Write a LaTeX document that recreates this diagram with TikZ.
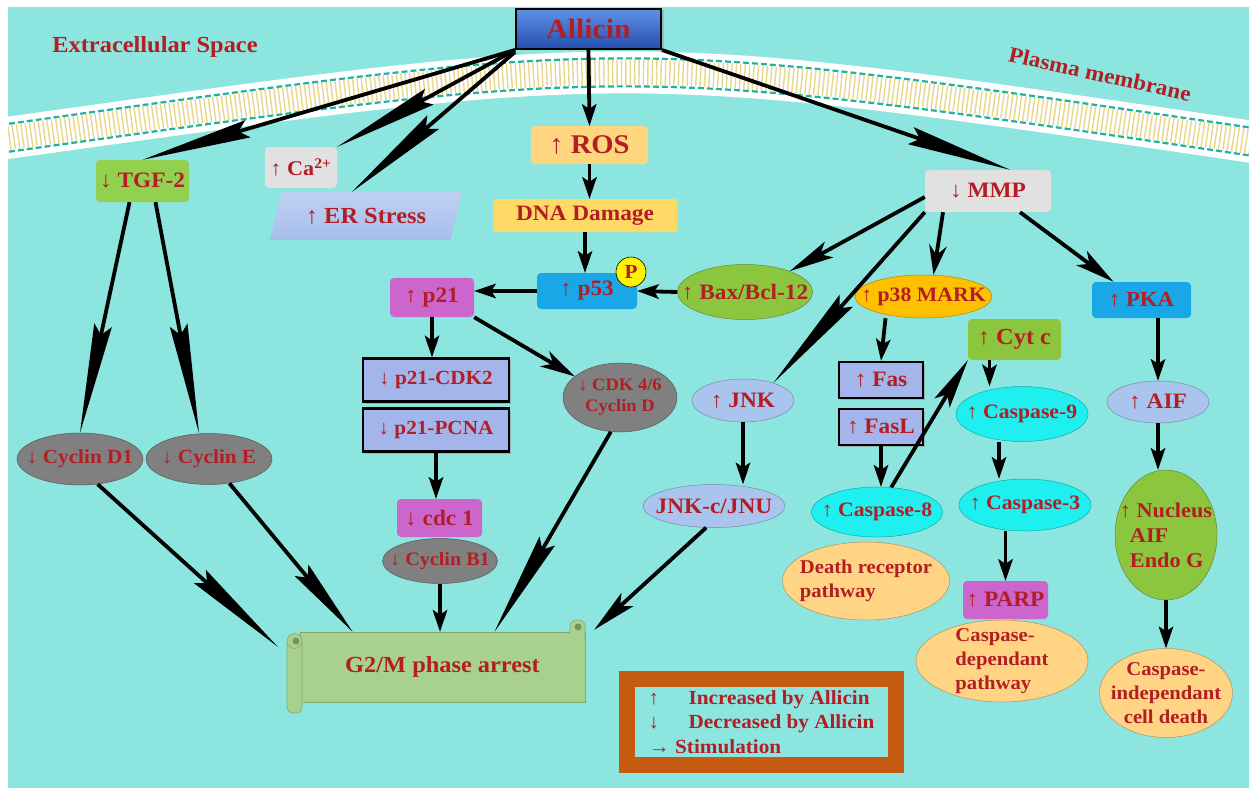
\documentclass[tikz,border=0pt]{standalone}
\usepackage{fontspec}
\setmainfont{Liberation Serif}[FakeStretch=1.06]
\usetikzlibrary{arrows.meta,shapes.geometric,shadows}

\definecolor{bgcyan}{RGB}{141,229,223}
\definecolor{txtred}{RGB}{178,30,36}
\definecolor{memteal}{RGB}{32,178,160}
\definecolor{lipid}{RGB}{232,214,140}
\definecolor{tgfgreen}{RGB}{146,208,80}
\definecolor{boxgray}{RGB}{225,225,225}
\definecolor{erblue}{RGB}{164,190,235}
\definecolor{rosorange}{RGB}{255,214,128}
\definecolor{dnayellow}{RGB}{255,217,102}
\definecolor{p53blue}{RGB}{26,167,232}
\definecolor{magbox}{RGB}{204,102,204}
\definecolor{lavender}{RGB}{163,181,234}
\definecolor{ovalgray}{RGB}{128,128,128}
\definecolor{leafgreen}{RGB}{140,198,63}
\definecolor{p38orange}{RGB}{255,192,0}
\definecolor{caspcyan}{RGB}{30,240,240}
\definecolor{paleblue}{RGB}{169,197,238}
\definecolor{peach}{RGB}{255,212,133}
\definecolor{scrollgreen}{RGB}{169,209,142}
\definecolor{legframe}{RGB}{197,90,17}
\definecolor{allictop}{RGB}{95,145,232}
\definecolor{allicbot}{RGB}{38,78,172}

\begin{document}
\begin{tikzpicture}[x=1pt,y=-1pt,
    every node/.style={text=txtred, inner sep=0pt, font=\bfseries\fontsize{22}{26}\selectfont},
    rbox/.style={rectangle, rounded corners=4pt, fill=#1},
    sbox/.style={rectangle, fill=lavender, draw=black, line width=2.5pt,
      drop shadow={shadow xshift=2pt, shadow yshift=-2pt, fill=black!45}},
    oval/.style={ellipse, fill=#1, draw=#1!70!black, line width=0.5pt, inner xsep=-40pt, inner ysep=-15pt},
    arr/.style={line width=3.8pt, -{Stealth[length=22pt, width=15pt, inset=5pt, line width=0pt]}},
    longarr/.style={line width=3.8pt, -{Stealth[length=#1, width=18pt, inset=10pt, line width=0pt]}},
    longarr/.default=100pt,
    lipidline/.style={line width=2.2pt, memteal, dash pattern=on 6pt off 3pt}]

\useasboundingbox (0,0) rectangle (1249,790);
\fill[white] (0,0) rectangle (1249,790);
\fill[bgcyan] (8,7) rectangle (1249,788);

% plasma membrane
\begin{scope}
  \clip (8,7) rectangle (1249,788);
  \draw[white, line width=42pt] (0,139) .. controls (636,50) and (621,49) .. (1260,143);
  \draw[lipid, line width=25pt, dash pattern=on 1.4pt off 3pt] (0,139) .. controls (636,50) and (621,49) .. (1260,143);
  \foreach \dy in {-14,14}
    \draw[lipidline, yshift=\dy pt] (0,139) .. controls (636,50) and (621,49) .. (1260,143);
\end{scope}

\node[font=\bfseries\fontsize{23}{27}\selectfont] (extra) at (155,47) {Extracellular Space};
\node[rotate=-12.5] (plasma) at (1100,74) {Plasma membrane};

% top
\node[rectangle, minimum width=145pt, minimum height=40pt, draw=black, line width=2pt,
  top color=allictop, bottom color=allicbot,
  drop shadow={shadow xshift=3pt, shadow yshift=-1pt, fill=black!40},
  font=\bfseries\fontsize{28}{32}\selectfont] (allicin) at (588.5,29) {Allicin};
\node[rbox=tgfgreen, minimum width=93pt, minimum height=42pt] (tgf) at (142.5,181) {↓ TGF-2};
\node[rbox=boxgray, minimum width=72pt, minimum height=41pt, font=\bfseries\fontsize{21}{25}\selectfont] (ca) at (301,167.5) {↑ Ca\textsuperscript{2+}};
\node[trapezium, trapezium left angle=54, trapezium right angle=126, trapezium stretches body,
  minimum width=192pt, minimum height=48pt, top color=erblue!70!white, bottom color=erblue,
  font=\bfseries\fontsize{23}{27}\selectfont] (er) at (366,216) {↑ ER Stress};
\node[rbox=rosorange, minimum width=117pt, minimum height=38pt, font=\bfseries\fontsize{27}{31}\selectfont] (ros) at (589.5,145) {↑ ROS};
\node[rbox=dnayellow, rounded corners=2pt, minimum width=184pt, minimum height=33pt] (dna) at (585,215.5) {DNA Damage};
\node[rbox=p53blue, minimum width=100pt, minimum height=36pt] (p53) at (587,291) {↑ p53};
\node[circle, fill=yellow, draw=black, line width=0.6pt, minimum size=30pt, font=\bfseries\fontsize{20}{24}\selectfont] (pmark) at (631,272) {P};
\node[oval=leafgreen, minimum width=135pt, minimum height=55pt] (bax) at (745,292) {↑ Bax/Bcl-12};

% p21 branch
\node[rbox=magbox, minimum width=84pt, minimum height=39pt] (p21) at (432,297.5) {↑ p21};
\node[sbox, minimum width=146pt, minimum height=43pt, font=\bfseries\fontsize{20}{24}\selectfont] (p21cdk2) at (436,380) {↓ p21-CDK2};
\node[sbox, minimum width=146pt, minimum height=43pt, font=\bfseries\fontsize{20}{24}\selectfont] (p21pcna) at (436,430) {↓ p21-PCNA};
\node[rbox=magbox, minimum width=85pt, minimum height=38pt] (cdc1) at (439.5,518) {↓ cdc 1};
\node[oval=ovalgray, minimum width=115pt, minimum height=45pt, font=\bfseries\fontsize{19}{23}\selectfont] (cycb1) at (440,561) {↓ Cyclin B1};
\node[oval=ovalgray, minimum width=114pt, minimum height=69pt, align=center, font=\bfseries\fontsize{17.5}{21}\selectfont] (cdk46) at (620,397.5) {↓ CDK 4/6\\Cyclin D};

% TGF branch
\node[oval=ovalgray, minimum width=126pt, minimum height=52pt, font=\bfseries\fontsize{20}{24}\selectfont] (cycd1) at (80,459) {↓ Cyclin D1};
\node[oval=ovalgray, minimum width=126pt, minimum height=51pt, font=\bfseries\fontsize{20}{24}\selectfont] (cyce) at (209,459) {↓ Cyclin E};

% G2/M scroll
\node[rectangle, minimum width=285pt, minimum height=70pt, fill=scrollgreen, draw=scrollgreen!80!black, line width=0.6pt,
  font=\bfseries\fontsize{23}{27}\selectfont] (g2m) at (442.5,667) {G2/M phase arrest};
\filldraw[fill=scrollgreen, draw=scrollgreen!80!black, line width=0.6pt, rounded corners=6pt]
  (570,634) -- (570,620) -- (585,620) -- (585,640);
\fill[scrollgreen!70!black] (578,627) circle (3.5pt);
\filldraw[fill=scrollgreen, draw=scrollgreen!80!black, line width=0.6pt, rounded corners=6pt]
  (287,642) -- (287,713) -- (302,713) -- (302,642);
\filldraw[fill=scrollgreen, draw=scrollgreen!80!black, line width=0.6pt] (294.5,641) circle (7.5pt);
\fill[scrollgreen!70!black] (296,641) circle (3.5pt);

% MMP branch
\node[rbox=boxgray, minimum width=126pt, minimum height=42pt] (mmp) at (988,191) {↓ MMP};
\node[oval=paleblue, minimum width=102pt, minimum height=43pt] (jnk) at (743,400.5) {↑ JNK};
\node[oval=paleblue, minimum width=142pt, minimum height=43pt] (jnkc) at (714,506) {JNK-c/JNU};
\node[oval=p38orange, minimum width=137pt, minimum height=43pt, font=\bfseries\fontsize{20.5}{24}\selectfont] (p38) at (923.5,296.5) {↑ p38 MARK};
\node[sbox, minimum width=84pt, minimum height=36pt] (fas) at (881,380) {↑ Fas};
\node[sbox, minimum width=84pt, minimum height=36pt] (fasl) at (881,427) {↑ FasL};
\node[oval=peach, minimum width=167pt, minimum height=78pt, align=left, font=\bfseries\fontsize{19.5}{24}\selectfont] (dpath) at (866,581) {Death receptor\\pathway};
\node[oval=caspcyan, minimum width=131pt, minimum height=50pt, font=\bfseries\fontsize{20.5}{24}\selectfont] (casp8) at (877,512) {↑ Caspase-8};
\node[rbox=leafgreen, minimum width=93pt, minimum height=41pt, font=\bfseries\fontsize{23}{27}\selectfont] (cytc) at (1014.5,339.5) {↑ Cyt c};
\node[oval=caspcyan, minimum width=132pt, minimum height=55pt, font=\bfseries\fontsize{20.5}{24}\selectfont] (casp9) at (1022,414) {↑ Caspase-9};
\node[oval=caspcyan, minimum width=132pt, minimum height=52pt, font=\bfseries\fontsize{20.5}{24}\selectfont] (casp3) at (1025,505) {↑ Caspase-3};
\node[oval=peach, minimum width=172pt, minimum height=82pt, align=left, font=\bfseries\fontsize{19.5}{24}\selectfont] (cdpath) at (1002,661) {Caspase-\\dependant\\pathway};
\node[rbox=magbox, minimum width=85pt, minimum height=38pt] (parp) at (1005.5,600) {↑ PARP};
\node[rbox=p53blue, minimum width=99pt, minimum height=36pt, font=\bfseries\fontsize{21.5}{25}\selectfont] (pka) at (1141.5,300) {↑ PKA};
\node[oval=paleblue, minimum width=102pt, minimum height=42pt] (aif) at (1158,402) {↑ AIF};
\node[oval=leafgreen, minimum width=102pt, minimum height=130pt, align=left, font=\bfseries\fontsize{21}{25}\selectfont] (nucl) at (1166,535) {↑ Nucleus\\\hspace*{10pt}AIF\\\hspace*{10pt}Endo G};
\node[oval=peach, minimum width=133pt, minimum height=89pt, align=center, font=\bfseries\fontsize{19.5}{24}\selectfont] (cid) at (1166,693) {Caspase-\\independant\\cell death};

% legend
\node[rectangle, draw=legframe, line width=16pt, minimum width=269pt, minimum height=86pt, align=left,
  font=\bfseries\fontsize{20}{24.5}\selectfont] (legend) at (761.5,722)
  {\makebox[40pt][l]{↑}Increased by Allicin\\\makebox[40pt][l]{↓}Decreased by Allicin\\→ Stimulation};

% connectors
\draw[longarr=110pt] (allicin.south west) -- (tgf.north);
\draw[longarr=105pt] (allicin.south west) -- (ca.north east);
\draw[longarr=107pt] ([yshift=-2pt]allicin.south west) -- ([xshift=-14pt]er.north);
\draw[arr] (allicin.south) -- (ros.north);
\draw[longarr=105pt] (allicin.south east) -- ([xshift=22pt]mmp.north);
\draw[arr] (ros.south) -- (ros.south |- dna.north);
\draw[arr] (dna.south) -- (dna.south |- p53.north);
\draw[arr] (p53.west) -- (p53.west -| p21.east);
\draw[arr] (bax.west) -- (p53.east);
\draw[arr] (p21.south) -- (p21.south |- p21cdk2.north);
\draw[longarr=35pt] (p21.south east) -- (cdk46.155);
\draw[arr] (p21pcna.south) -- (p21pcna.south |- cdc1.north);
\draw[arr] (cycb1.south) -- (cycb1.south |- g2m.north);
\draw[longarr=105pt] (cdk46.255) -- ([xshift=52pt]g2m.north);
\draw[longarr=110pt] ([xshift=-13pt]tgf.south) -- (cycd1.north);
\draw[longarr=110pt] ([xshift=13pt]tgf.south) -- ([xshift=-10pt]cyce.north);
\draw[longarr=105pt] (cycd1.-55) -- ([xshift=-22pt,yshift=-15pt]g2m.north west);
\draw[longarr=80pt] (cyce.-50) -- ([xshift=-90pt]g2m.north);
\draw[longarr=45pt] (jnkc.250) -- ([xshift=9pt,yshift=2pt]g2m.north east);
\draw[longarr=45pt] ([yshift=-6pt]mmp.west) -- (bax.25);
\draw[longarr=110pt] (mmp.south west) -- (jnk.30);
\draw[arr] (jnk.south) -- (jnk.south |- jnkc.north);
\draw[longarr=30pt] ([xshift=-45pt]mmp.south) -- ([xshift=10pt]p38.north);
\draw[longarr=40pt] ([xshift=32pt]mmp.south) -- ([xshift=-28pt]pka.north);
\draw[arr] ([xshift=-38pt]p38.south) -- (fas.north);
\draw[arr] (fasl.south) -- (fasl.south |- casp8.north);
\draw[longarr=50pt] (casp8.60) -- (cytc.south west);
\draw[arr] ([xshift=-25pt]cytc.south) -- ([xshift=-25pt]cytc.south |- casp9.north);
\draw[arr] ([xshift=-23pt]casp9.south) -- ([xshift=-23pt]casp9.south |- casp3.north);
\draw[arr] (casp3.south -| parp.north) -- (parp.north);
\draw[arr] (pka.south -| aif.north) -- (aif.north);
\draw[arr] (aif.south) -- (aif.south |- nucl.north);
\draw[arr] (nucl.south) -- (cid.north);
\end{tikzpicture}
\end{document}
